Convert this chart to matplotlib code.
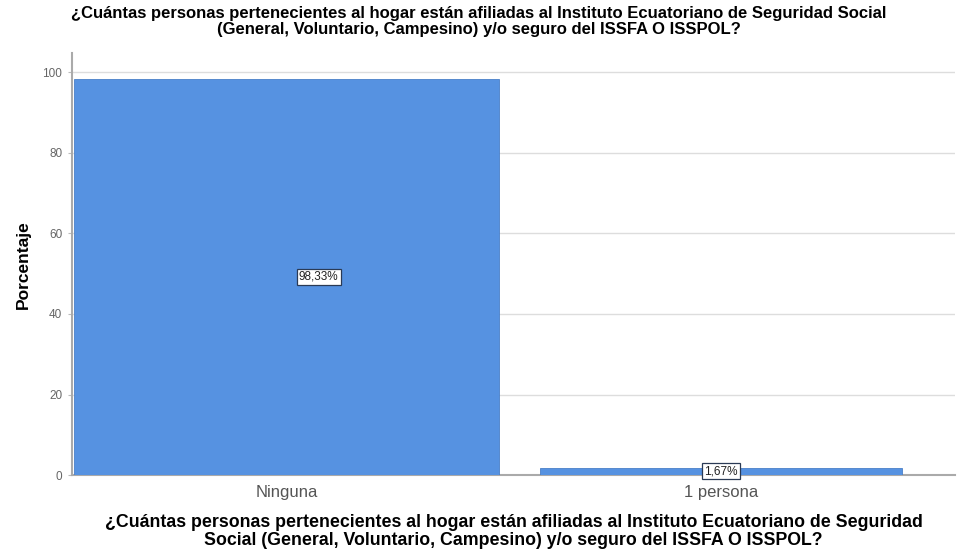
import numpy as np
import matplotlib
matplotlib.use("Agg")
import matplotlib.pyplot as plt

plt.rcParams['font.family'] = ['Liberation Sans', 'DejaVu Sans']

# datos
categorias = ['Ninguna', '1 persona']
porcentajes = [98.33, 1.67]
etiquetas = ['98,33%', '1,67%']
pregunta = ('¿Cuántas personas pertenecientes al hogar están afiliadas al Instituto Ecuatoriano de Seguridad Social\n'
            '(General, Voluntario, Campesino) y/o seguro del ISSFA O ISSPOL?')
pregunta_x = ('¿Cuántas personas pertenecientes al hogar están afiliadas al Instituto Ecuatoriano de Seguridad\n'
              'Social (General, Voluntario, Campesino) y/o seguro del ISSFA O ISSPOL?')
yticks = [0, 20, 40, 60, 80, 100]

fig = plt.figure(figsize=(9.57, 5.59), dpi=100)
ax = fig.add_axes([0.0752, 0.150, 0.923, 0.755])

x = np.arange(len(categorias))
anchos = [0.978, 0.833]
ax.bar(x, porcentajes, width=anchos, color='#5692E1', edgecolor='#4A80C8', linewidth=0.6, zorder=3)

# posicion de las etiquetas (la primera va algo desplazada a la derecha)
desplaz = [0.074, 0.0]
for xi, p, et, dx in zip(x, porcentajes, etiquetas, desplaz):
    ypos = p / 2 if p > 10 else 1.0
    ax.text(xi + dx, ypos, et, ha='center', va='center', fontsize=8.5, color='#222222', zorder=4,
            bbox=dict(boxstyle='square,pad=0.2', facecolor='white', edgecolor='#2a3a55', linewidth=0.9))

ax.set_xlim(-0.494, 1.539)
ax.set_ylim(0, 104.7)
ax.set_xticks(x)
ax.set_xticklabels(categorias, fontsize=12, color='#555555')
ax.set_yticks(yticks)
ax.set_yticklabels([str(v) for v in yticks], fontsize=8.5, color='#666666')
ax.tick_params(axis='x', length=0, pad=7)
ax.tick_params(axis='y', length=3, color='#bbbbbb', pad=4)
ax.grid(axis='y', color='#dddddd', linewidth=1.0, zorder=0)

for s in ['top', 'right']:
    ax.spines[s].set_visible(False)
for s in ['left', 'bottom']:
    ax.spines[s].set_color('#aaaaaa')
    ax.spines[s].set_linewidth(1.5)

ax.set_ylabel('Porcentaje', fontsize=12.5, fontweight='bold', labelpad=8)
ax.set_xlabel(pregunta_x, fontsize=12.8, fontweight='bold', labelpad=10, linespacing=1.08)
fig.suptitle(pregunta, fontsize=12, fontweight='bold', y=0.99, linespacing=1.12)

fig.savefig('out.png', dpi=100)
